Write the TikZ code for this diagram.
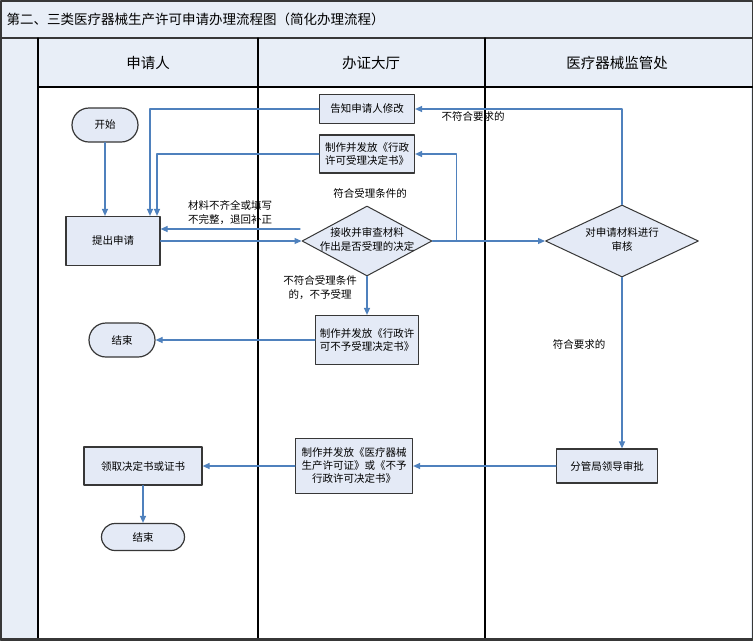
\documentclass[tikz,border=0pt]{standalone}
\usepackage{fontspec}
\newfontfamily\cjk{Noto Sans CJK SC}
\usepackage{tikz}
\definecolor{lane}{RGB}{232,238,247}
\definecolor{boxfill}{RGB}{228,234,246}
\definecolor{flow}{RGB}{79,129,189}
\definecolor{frame}{RGB}{55,55,55}
\usetikzlibrary{arrows.meta,shapes.geometric,shapes.misc}
\newcommand{\dtext}[1]{\smash{\raisebox{-0.25em}{\makebox[0pt]{\begin{tabular}{@{}c@{}}#1\end{tabular}}}}}
\tikzset{
    proc/.style = {draw=frame, fill=boxfill, line width=1.2pt, align=center, inner sep=2pt,
        font=\cjk\fontsize{10.5}{13}\selectfont},
    term/.style = {rounded rectangle, draw=frame, fill=boxfill, line width=1.2pt, inner sep=2pt,
        font=\cjk\fontsize{10.5}{13}\selectfont},
    check/.style = {diamond, draw=frame, fill=boxfill, line width=1pt, inner sep=0pt,
        font=\cjk\fontsize{10.5}{14}\selectfont},
    note/.style = {align=center, inner sep=1pt, font=\cjk\fontsize{10.5}{14}\selectfont},
    lanehead/.style = {font=\cjk\fontsize{14.5}{16}\selectfont},
    flow/.style = {draw=flow, line width=1.2pt, -{Triangle[length=7pt,width=6pt]}}
}

\begin{document}
\begin{tikzpicture}[x=1pt,y=-1pt,line cap=round,line join=round]
	\useasboundingbox (0,0) rectangle (753,641);
	% swimlane frame
	\fill[lane] (0,0) rectangle (753,641);
	\fill[white] (38,87) rectangle (751,638);
	\draw[frame, line width=1.5pt] (0.75,0.75) rectangle (752.25,640.25);
	\draw[frame, line width=2pt] (0,38) -- (753,38);
	\draw[line width=1.2pt] (38,87) -- (753,87);
	\draw[line width=1.2pt] (38,38) -- (38,639);
	\draw[line width=1.2pt] (258,38) -- (258,639);
	\draw[line width=1.2pt] (485,38) -- (485,639);
	\draw[frame, line width=2.5pt] (0,639) -- (753,639);
	\node[anchor=west, font=\cjk\fontsize{13.5}{15}\selectfont] (title) at (3,19) {第二、三类医疗器械生产许可申请办理流程图（简化办理流程）};
	\node[lanehead] (hApplicant) at (148,63) {申请人};
	\node[lanehead] (hHall) at (371,63) {办证大厅};
	\node[lanehead] (hDept) at (617,63) {医疗器械监管处};
	% steps
	\node[term, minimum width=70pt, minimum height=34pt] (start) at (105,125) {开始};
	\node[proc, minimum width=94pt, minimum height=49pt] (apply) at (113,241) {提出申请};
	\node[proc, minimum width=95pt, minimum height=29pt] (notify) at (367,109) {告知申请人修改};
	\node[proc, minimum width=95pt, minimum height=38pt] (accept) at (367,154) {制作并发放《行政\\许可受理决定书》};
	\node[check, minimum width=130pt, minimum height=70pt] (review) at (367,241) {\dtext{接收并审查材料\\作出是否受理的决定}};
	\node[proc, minimum width=103pt, minimum height=49pt] (reject) at (367,340) {制作并发放《行政许\\可不予受理决定书》};
	\node[term, minimum width=70pt, minimum height=34pt] (end1) at (122,340) {结束};
	\node[check, minimum width=153pt, minimum height=72pt] (audit) at (622,241) {\dtext{对申请材料进行\\审核}};
	\node[proc, minimum width=101pt, minimum height=34pt] (approve) at (607,466) {分管局领导审批};
	\node[proc, minimum width=117pt, minimum height=55pt] (issue) at (354,466) {制作并发放《医疗器械\\生产许可证》或《不予\\行政许可决定书》};
	\node[proc, minimum width=118pt, minimum height=38pt] (collect) at (143,466) {领取决定书或证书};
	\node[term, minimum width=87pt, minimum height=27pt] (end2) at (143,537) {结束};
	% labels
	\node[note] (lblFix) at (230,213) {材料不齐全或填写\\不完整，退回补正};
	\node[note] (lblOk) at (370,193) {符合受理条件的};
	\node[note] (lblNo) at (320,288) {不符合受理条件\\的，不予受理};
	\node[note] (lblBad) at (473,116) {不符合要求的};
	\node[note] (lblGood) at (579,344) {符合要求的};
	% connectors
	\coordinate (fixFrom) at (300,229);
	\draw[flow] (start.south) -- (start.south |- apply.north);
	\draw[flow] (notify.west) -| ([xshift=37pt]apply.north);
	\draw[flow] (accept.west) -| ([xshift=44pt]apply.north);
	\draw[flow] (fixFrom) -- (fixFrom -| apply.east);
	\draw[flow] (apply.east) -- (review.west);
	\draw[flow] (review.east) -- (audit.west);
	\draw[flow] ([xshift=24pt]review.east) |- (accept.east);
	\draw[flow] (review.south) -- (reject.north);
	\draw[flow] (reject.west) -- (end1.east);
	\draw[flow] (audit.north) |- (notify.east);
	\draw[flow] (audit.south) -- (audit.south |- approve.north);
	\draw[flow] (approve.west) -- (issue.east);
	\draw[flow] (issue.west) -- (collect.east);
	\draw[flow] (collect.south) -- (end2.north);
\end{tikzpicture}
\end{document}
